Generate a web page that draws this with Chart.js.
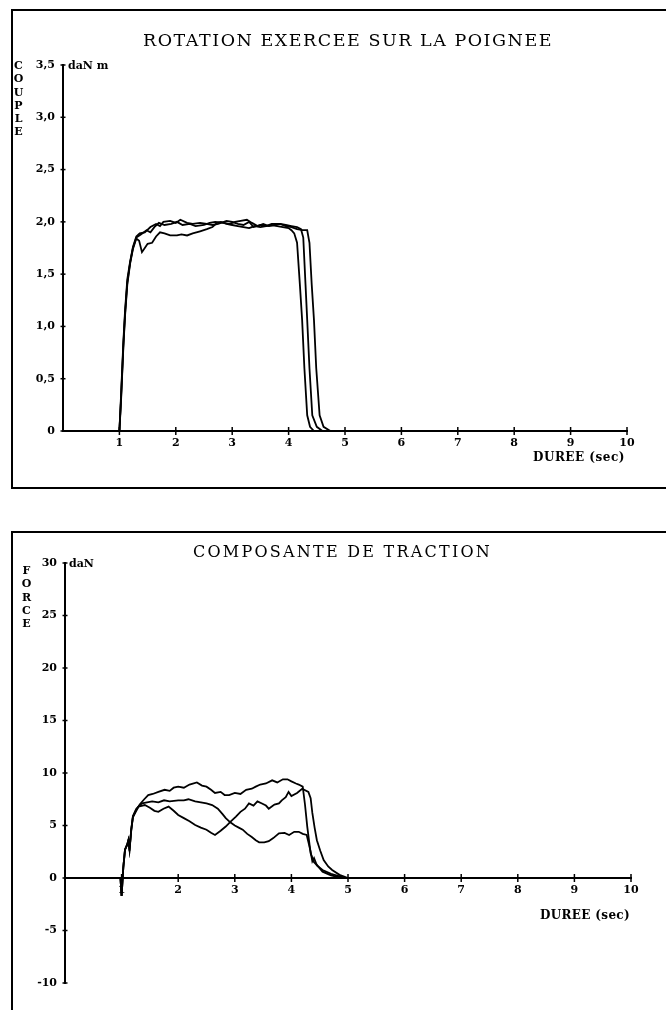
<!DOCTYPE html>
<html><head><meta charset="utf-8">
<script src="https://cdn.jsdelivr.net/npm/chart.js@4"></script>
<style>
html,body{margin:0;padding:0;background:#fff;overflow:hidden;width:666px;height:1010px;}
#wrap{position:relative;width:666px;height:1010px;overflow:hidden;background:#fff;}
canvas{position:absolute;left:0;}
.frame{position:absolute;border:2px solid #000;box-sizing:border-box;}
.t{position:absolute;font-family:"DejaVu Serif",serif;color:#000;white-space:nowrap;line-height:1;}
.v{writing-mode:vertical-rl;text-orientation:upright;font-weight:bold;font-size:11px;letter-spacing:0.3px;}
.b{font-weight:bold;font-size:11px;}
</style></head><body><div id="wrap">
<div class="frame" style="left:11px;top:9px;width:700px;height:480px"></div>
<div class="frame" style="left:11px;top:531px;width:700px;height:600px"></div>
<canvas id="c1" width="666" height="480" style="top:0"></canvas>
<canvas id="c2" width="666" height="480" style="top:530px"></canvas>
<div class="t fit" data-w="410" style="left:143px;top:32px;font-size:17.5px">ROTATION EXERCEE SUR LA POIGNEE</div>
<div class="t v" style="left:13px;top:59px">COUPLE</div>
<div class="t b" style="left:68px;top:60px">daN m</div>
<div class="t b fit" data-w="92" style="left:533px;top:451px;font-size:12px">DUREE (sec)</div>
<div class="t fit" data-w="299" style="left:193px;top:544px;font-size:16px">COMPOSANTE DE TRACTION</div>
<div class="t v" style="left:21px;top:564px">FORCE</div>
<div class="t b" style="left:69px;top:558px">daN</div>
<div class="t b fit" data-w="90" style="left:540px;top:909px;font-size:12px">DUREE (sec)</div>
</div>
<script>
// ---- data ----
const xTickLabels = ['', '1', '2', '3', '4', '5', '6', '7', '8', '9', '10'];
const coupleTickLabels = ['0', '0,5', '1,0', '1,5', '2,0', '2,5', '3,0', '3,5'];
const forceTickLabels = ['-10', '-5', '0', '5', '10', '15', '20', '25', '30'];

// Couple (daN m) vs time (sec), three trials
const couple1 = [[0,0],[1.0,0],[1.03,0.3],[1.07,0.8],[1.1,1.1],[1.14,1.4],[1.19,1.6],[1.24,1.74],[1.3,1.84],[1.35,1.82],[1.4,1.71],[1.45,1.75],[1.5,1.79],[1.58,1.8],[1.65,1.86],[1.72,1.9],[1.8,1.89],[1.9,1.87],[2.02,1.87],[2.1,1.88],[2.2,1.87],[2.3,1.89],[2.43,1.91],[2.55,1.93],[2.65,1.95],[2.73,1.99],[2.8,2.0],[2.9,1.98],[3.0,1.97],[3.1,1.96],[3.2,1.95],[3.3,1.94],[3.4,1.96],[3.5,1.95],[3.6,1.96],[3.7,1.97],[3.8,1.96],[3.9,1.95],[4.0,1.94],[4.05,1.92],[4.1,1.89],[4.15,1.8],[4.2,1.4],[4.24,1.06],[4.28,0.6],[4.33,0.15],[4.38,0.04],[4.45,0]];
const couple2 = [[0,0],[1.0,0],[1.03,0.35],[1.07,0.85],[1.1,1.15],[1.14,1.45],[1.19,1.62],[1.24,1.76],[1.3,1.86],[1.36,1.89],[1.45,1.9],[1.55,1.95],[1.65,1.98],[1.72,1.96],[1.78,2.0],[1.9,2.01],[2.0,1.99],[2.08,2.02],[2.2,1.99],[2.3,1.98],[2.43,1.99],[2.55,1.98],[2.65,1.97],[2.75,1.98],[2.9,2.01],[3.0,2.0],[3.1,1.98],[3.2,1.97],[3.3,2.0],[3.38,1.95],[3.5,1.97],[3.6,1.96],[3.7,1.98],[3.85,1.98],[3.95,1.97],[4.05,1.96],[4.15,1.95],[4.22,1.93],[4.26,1.85],[4.3,1.4],[4.33,1.06],[4.37,0.6],[4.42,0.15],[4.5,0.04],[4.6,0]];
const couple3 = [[0,0],[1.0,0],[1.03,0.32],[1.07,0.82],[1.1,1.12],[1.14,1.42],[1.19,1.61],[1.24,1.75],[1.3,1.85],[1.38,1.88],[1.48,1.92],[1.55,1.9],[1.62,1.95],[1.7,1.99],[1.8,1.97],[1.92,1.98],[2.02,2.0],[2.12,1.97],[2.25,1.98],[2.35,1.96],[2.5,1.97],[2.6,1.99],[2.7,2.0],[2.85,1.99],[2.95,1.98],[3.05,2.0],[3.15,2.01],[3.26,2.02],[3.35,1.99],[3.45,1.96],[3.55,1.98],[3.65,1.96],[3.75,1.97],[3.85,1.98],[3.95,1.96],[4.05,1.95],[4.15,1.93],[4.25,1.92],[4.33,1.92],[4.37,1.8],[4.41,1.4],[4.45,1.06],[4.49,0.6],[4.55,0.15],[4.62,0.04],[4.74,0]];

// Traction force (daN) vs time (sec), three trials
const force1 = [[0,0],[0.98,0],[1.0,-1.7],[1.03,1.0],[1.06,2.7],[1.1,3.2],[1.12,3.6],[1.14,2.6],[1.17,4.5],[1.2,5.8],[1.25,6.4],[1.32,7.0],[1.4,7.5],[1.47,7.9],[1.55,8.0],[1.65,8.2],[1.76,8.4],[1.85,8.3],[1.92,8.6],[2.0,8.7],[2.1,8.6],[2.2,8.9],[2.33,9.1],[2.42,8.8],[2.5,8.7],[2.58,8.4],[2.65,8.1],[2.75,8.2],[2.82,7.9],[2.9,7.9],[3.0,8.1],[3.1,8.0],[3.2,8.4],[3.3,8.5],[3.37,8.7],[3.45,8.9],[3.55,9.0],[3.66,9.3],[3.75,9.1],[3.85,9.4],[3.93,9.4],[4.0,9.2],[4.08,9.0],[4.13,8.9],[4.2,8.7],[4.24,7.0],[4.28,4.9],[4.34,2.35],[4.4,1.5],[4.45,1.24],[4.55,0.6],[4.7,0.25],[4.9,0]];
const force2 = [[0,0],[0.98,0],[1.0,-1.7],[1.03,1.0],[1.06,2.7],[1.1,3.2],[1.12,3.6],[1.14,2.7],[1.17,4.6],[1.2,5.9],[1.26,6.6],[1.36,7.1],[1.45,7.2],[1.54,7.3],[1.65,7.2],[1.75,7.4],[1.85,7.3],[2.0,7.4],[2.1,7.4],[2.18,7.5],[2.3,7.3],[2.4,7.2],[2.5,7.1],[2.6,6.95],[2.7,6.6],[2.78,6.1],[2.84,5.7],[2.92,5.3],[3.0,5.0],[3.07,4.8],[3.14,4.6],[3.22,4.2],[3.3,3.9],[3.37,3.6],[3.43,3.4],[3.52,3.4],[3.6,3.5],[3.68,3.8],[3.78,4.25],[3.88,4.3],[3.96,4.1],[4.05,4.4],[4.13,4.4],[4.2,4.2],[4.27,4.1],[4.31,3.2],[4.34,2.5],[4.37,1.6],[4.4,1.9],[4.45,1.2],[4.55,0.76],[4.7,0.4],[4.96,0]];
const force3 = [[0,0],[0.98,0],[1.0,-1.7],[1.03,1.0],[1.06,2.7],[1.1,3.2],[1.12,3.6],[1.14,2.7],[1.17,4.6],[1.2,5.8],[1.25,6.3],[1.3,6.8],[1.41,6.95],[1.5,6.7],[1.58,6.4],[1.65,6.3],[1.74,6.6],[1.83,6.8],[1.92,6.4],[2.0,6.0],[2.1,5.7],[2.2,5.4],[2.3,5.05],[2.4,4.8],[2.5,4.6],[2.58,4.3],[2.65,4.1],[2.75,4.5],[2.84,4.9],[2.93,5.4],[3.02,5.85],[3.1,6.3],[3.18,6.6],[3.25,7.1],[3.33,6.9],[3.4,7.3],[3.48,7.1],[3.55,6.9],[3.6,6.6],[3.7,7.0],[3.78,7.1],[3.83,7.4],[3.9,7.7],[3.95,8.2],[4.0,7.8],[4.1,8.1],[4.19,8.5],[4.3,8.2],[4.34,7.6],[4.37,6.2],[4.41,4.8],[4.45,3.6],[4.51,2.6],[4.57,1.7],[4.65,1.1],[4.72,0.76],[4.85,0.3],[5.0,0]];

// ---- fit title widths ----
document.querySelectorAll('.fit').forEach(el => {
  const target = +el.dataset.w;
  const w = el.getBoundingClientRect().width;
  const n = el.textContent.length;
  el.style.letterSpacing = ((target - w) / n).toFixed(2) + 'px';
});

const FONT = {family: '"DejaVu Serif", serif', size: 11, weight: 'bold'};

const crossTicks = {
  id: 'crossTicks',
  afterDraw(chart) {
    const ctx = chart.ctx, xs = chart.scales.x, ys = chart.scales.y;
    ctx.save();
    ctx.strokeStyle = '#000';
    ctx.lineWidth = 1.5;
    const y0 = ys.getPixelForValue(0);
    const x0 = xs.getPixelForValue(0);
    xs.ticks.forEach(t => {
      if (t.value === 0) return;
      const px = xs.getPixelForValue(t.value);
      ctx.beginPath(); ctx.moveTo(px, y0 - 4); ctx.lineTo(px, y0 + 4); ctx.stroke();
    });
    ys.ticks.forEach(t => {
      const py = ys.getPixelForValue(t.value);
      ctx.beginPath(); ctx.moveTo(x0 - 2.5, py); ctx.lineTo(x0 + 2.5, py); ctx.stroke();
    });
    ctx.restore();
  }
};

function ds(arr) {
  return {
    data: arr.map(([x, y]) => ({x, y})),
    borderColor: '#000', borderWidth: 1.8, pointRadius: 0, tension: 0, fill: false
  };
}

function makeChart(id, series, yMin, yMax, yStep, yLabels, xPos, padding, yWidth, xHeight) {
  return new Chart(document.getElementById(id), {
    type: 'line',
    data: {datasets: series.map(ds)},
    plugins: [crossTicks],
    options: {
      responsive: false, animation: false, devicePixelRatio: 1,
      layout: {padding},
      plugins: {legend: {display: false}, tooltip: {enabled: false}, title: {display: false}},
      scales: {
        x: {
          type: 'linear', min: 0, max: 10, position: xPos,
          grid: {display: true, drawOnChartArea: false, drawTicks: false},
          border: {display: true, color: '#000', width: 2},
          ticks: {stepSize: 1, autoSkip: false, maxRotation: 0, padding: 6, color: '#000', font: FONT,
                  callback: (v, i) => xTickLabels[i]},
          afterFit: s => { if (xHeight) s.height = xHeight; }
        },
        y: {
          type: 'linear', min: yMin, max: yMax, position: 'left',
          grid: {display: true, drawOnChartArea: false, drawTicks: false},
          border: {display: true, color: '#000', width: 2},
          ticks: {stepSize: yStep, autoSkip: false, padding: 8, color: '#000', font: FONT,
                  callback: (v, i) => yLabels[i]},
          afterFit: s => { s.width = yWidth; }
        }
      }
    }
  });
}

makeChart('c1', [couple1, couple2, couple3], 0, 3.5, 0.5, coupleTickLabels, 'bottom',
  {left: 20, right: 39, top: 65, bottom: 19}, 43, 30);
makeChart('c2', [force1, force2, force3], -10, 30, 5, forceTickLabels, {y: 0},
  {left: 20, right: 35, top: 33, bottom: 27}, 45, 0);
</script>
</body></html>
